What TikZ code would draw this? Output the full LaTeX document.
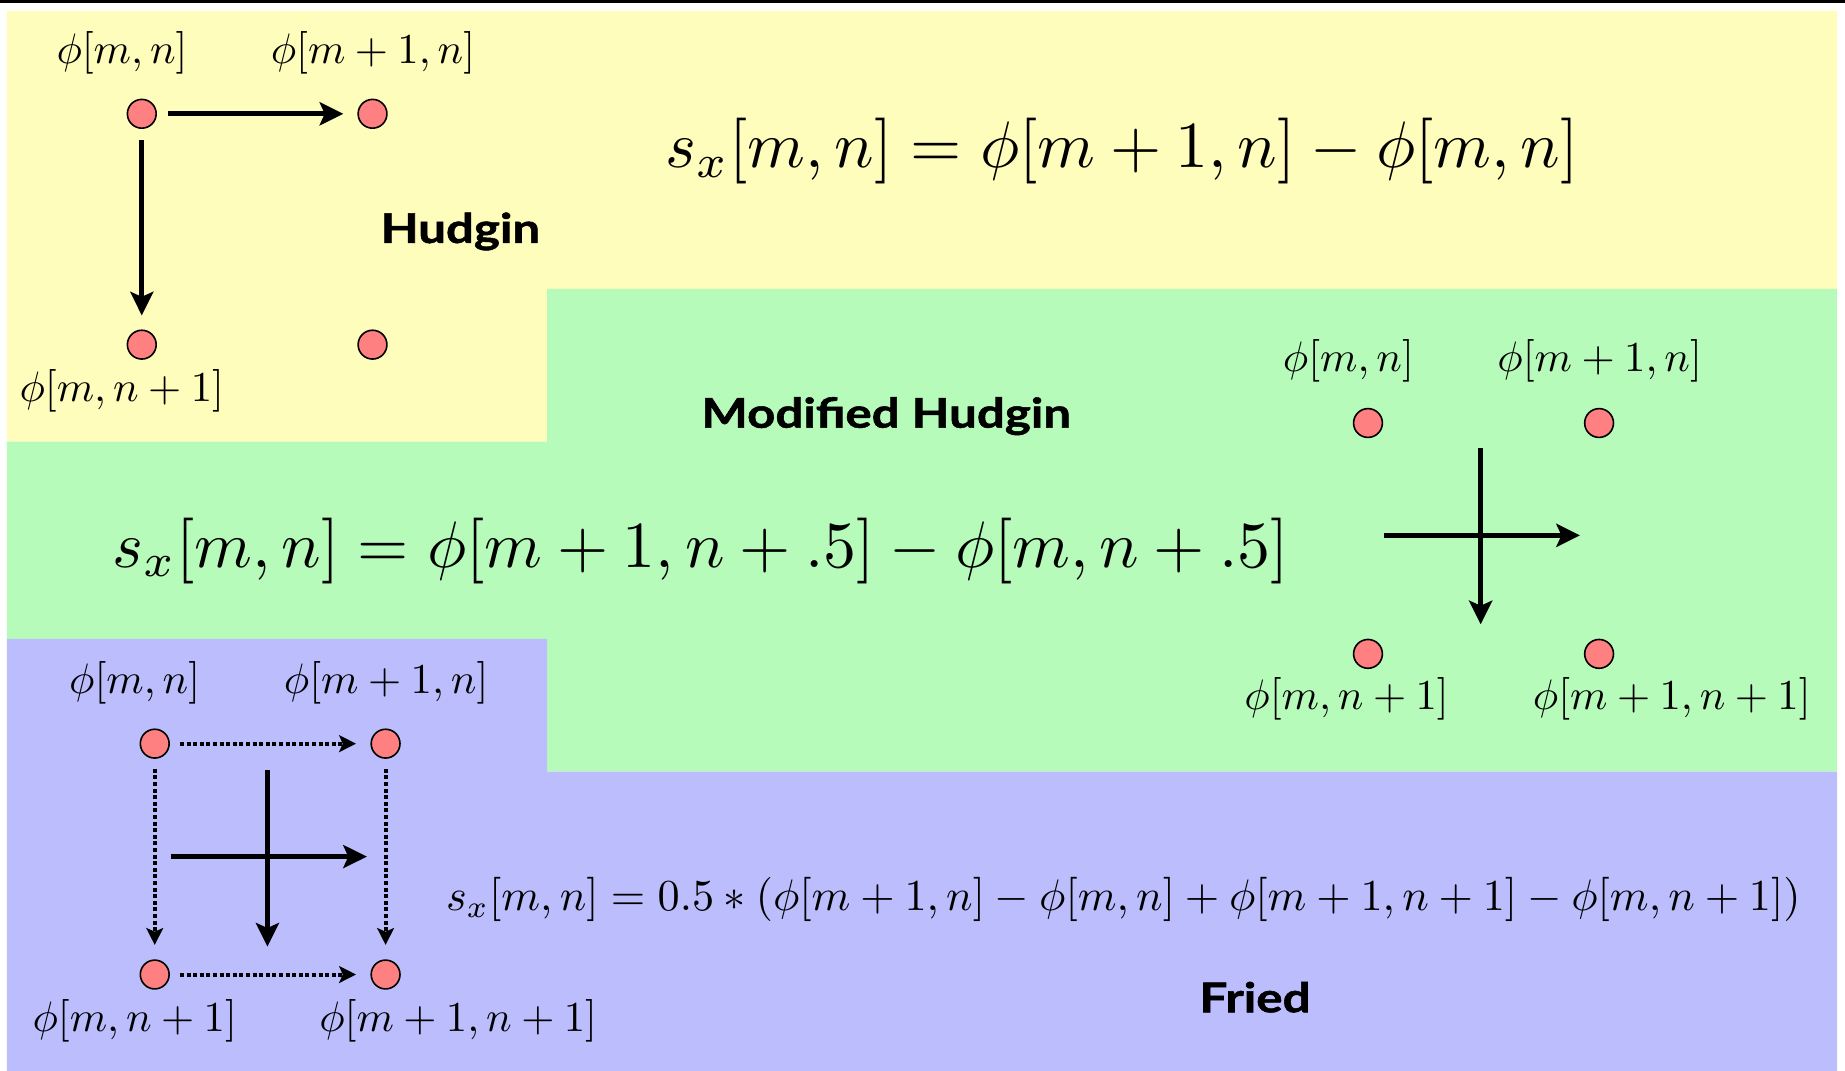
\RequirePackage{fix-cm}
\documentclass[tikz,border=0pt]{standalone}
\usepackage[no-math]{fontspec}
\usepackage{graphicx}
\newfontfamily\gillfont{Lato}[BoldFeatures={FakeBold=1.2}]
\usetikzlibrary{arrows.meta}
\definecolor{panelyellow}{RGB}{255,253,187}
\definecolor{panelgreen}{RGB}{182,251,185}
\definecolor{panelblue}{RGB}{187,189,253}
\definecolor{dotred}{RGB}{255,128,128}
\newcommand\LabMath[1]{\scalebox{2.13}{$#1$}}
\newcommand\BigMath[1]{\scalebox{3.29}{$#1$}}
\newcommand\SmallMath[1]{\scalebox{2.21}{$#1$}}
\begin{document}
\begin{tikzpicture}[x=0.5882pt,y=-0.5882pt,
  dot/.style={circle,draw=black,line width=0.8pt,fill=dotred,minimum size=14.4pt,inner sep=0pt},
  lab/.style={inner sep=0pt,font=\fontsize{10}{12}\selectfont},
  eqnode/.style={inner sep=0pt,font=\fontsize{10}{12}\selectfont},
  paneltitle/.style={inner sep=0pt,anchor=base,font=\gillfont\bfseries\fontsize{20.5}{24}\selectfont},
  bigarrow/.style={line width=2.5pt,-{Stealth[length=11.8pt,width=11.5pt,inset=2.5pt]}},
  dotarrow/.style={line width=2pt,dash pattern=on 2pt off 1.3pt,-{Stealth[length=8.4pt,width=8.4pt,inset=1.8pt]}},
  hudginarrow/.style={bigarrow,shorten <=5.7pt,shorten >=7pt},
  friedarrow/.style={dotarrow,shorten <=5pt,shorten >=7.2pt}
]
\useasboundingbox (0,0) rectangle (1568,910);
% top rule
\fill[black] (0,0) rectangle (1568,2.8);
% panels
\fill[panelyellow] (5.9,9.4) -- (1561.2,9.4) -- (1561.2,245.6) -- (465,245.6) -- (465,375.4) -- (5.9,375.4) -- cycle;
\fill[panelgreen] (465,245.6) -- (1561.2,245.6) -- (1561.2,655.8) -- (465,655.8) -- (465,543) -- (5.9,543) -- (5.9,375.4) -- (465,375.4) -- cycle;
\fill[panelblue] (5.9,543) -- (465,543) -- (465,655.8) -- (1561.2,655.8) -- (1561.2,910) -- (5.9,910) -- cycle;

% ---------- Hudgin ----------
\node[dot] (h11) at (120.5,96.7) {};
\node[dot] (h21) at (316.6,96.7) {};
\node[dot] (h12) at (120.5,292.9) {};
\node[dot] (h22) at (316.6,292.9) {};
\node[lab] (hl11) at (103.7,45) {\LabMath{\phi[m,n]}};
\node[lab] (hl21) at (317,45) {\LabMath{\phi[m+1,n]}};
\node[lab] (hl12) at (103.5,332.5) {\LabMath{\phi[m,n+1]}};
\draw[hudginarrow] (h11) -- (h21);
\draw[hudginarrow] (h11) -- (h12);
\node[paneltitle] (th) at (391.3,206.5) {\scalebox{1.2}[1]{Hudgin}};
\node[eqnode] (eqh) at (953.5,128.2) {\BigMath{s_x[m,n]=\phi[m+1,n]-\phi[m,n]}};

% ---------- Modified Hudgin ----------
\node[dot] (m11) at (1162.6,359.5) {};
\node[dot] (m21) at (1359,359.5) {};
\node[dot] (m12) at (1162.6,555.7) {};
\node[dot] (m22) at (1359,555.7) {};
\node[lab] (ml11) at (1146,306.8) {\LabMath{\phi[m,n]}};
\node[lab] (ml21) at (1359.5,306.8) {\LabMath{\phi[m+1,n]}};
\node[lab] (ml12) at (1144.4,593.8) {\LabMath{\phi[m,n+1]}};
\node[lab] (ml22) at (1420.8,593.8) {\LabMath{\phi[m+1,n+1]}};
\coordinate (mhs) at (1176.5,455);
\coordinate (mhe) at (1342.8,455);
\coordinate (mvs) at (1258.4,381);
\coordinate (mve) at (1258.4,530.6);
\draw[bigarrow] (mvs) -- (mve);
\draw[bigarrow] (mhs) -- (mhe);
\node[paneltitle] (tm) at (753.1,363.5) {\scalebox{1.2}[1]{Modified Hudgin}};
\node[eqnode] (eqm) at (595.5,467.9) {\BigMath{s_x[m,n]=\phi[m+1,n+.5]-\phi[m,n+.5]}};

% ---------- Fried ----------
\node[dot] (f11) at (131.5,632) {};
\node[dot] (f21) at (327.7,632) {};
\node[dot] (f12) at (131.5,828.2) {};
\node[dot] (f22) at (327.7,828.2) {};
\node[lab] (fl11) at (114.5,580.3) {\LabMath{\phi[m,n]}};
\node[lab] (fl21) at (328.2,580.3) {\LabMath{\phi[m+1,n]}};
\node[lab] (fl12) at (114.5,867.2) {\LabMath{\phi[m,n+1]}};
\node[lab] (fl22) at (389.4,867.2) {\LabMath{\phi[m+1,n+1]}};
\draw[friedarrow] (f11) -- (f21);
\draw[friedarrow] (f12) -- (f22);
\draw[friedarrow] (f11) -- (f12);
\draw[friedarrow] (f21) -- (f22);
\coordinate (fhs) at (145.6,728);
\coordinate (fhe) at (311.8,728);
\coordinate (fvs) at (227.3,654.4);
\coordinate (fve) at (227.3,804.5);
\draw[bigarrow] (fvs) -- (fve);
\draw[bigarrow] (fhs) -- (fhe);
\node[eqnode] (eqf) at (954.7,764.8) {\SmallMath{s_x[m,n]=0.5*(\phi[m+1,n]-\phi[m,n]+\phi[m+1,n+1]-\phi[m,n+1])}};
\node[paneltitle] (tf) at (1066.6,860.3) {\scalebox{1.2}[1]{Fried}};
\end{tikzpicture}
\end{document}
